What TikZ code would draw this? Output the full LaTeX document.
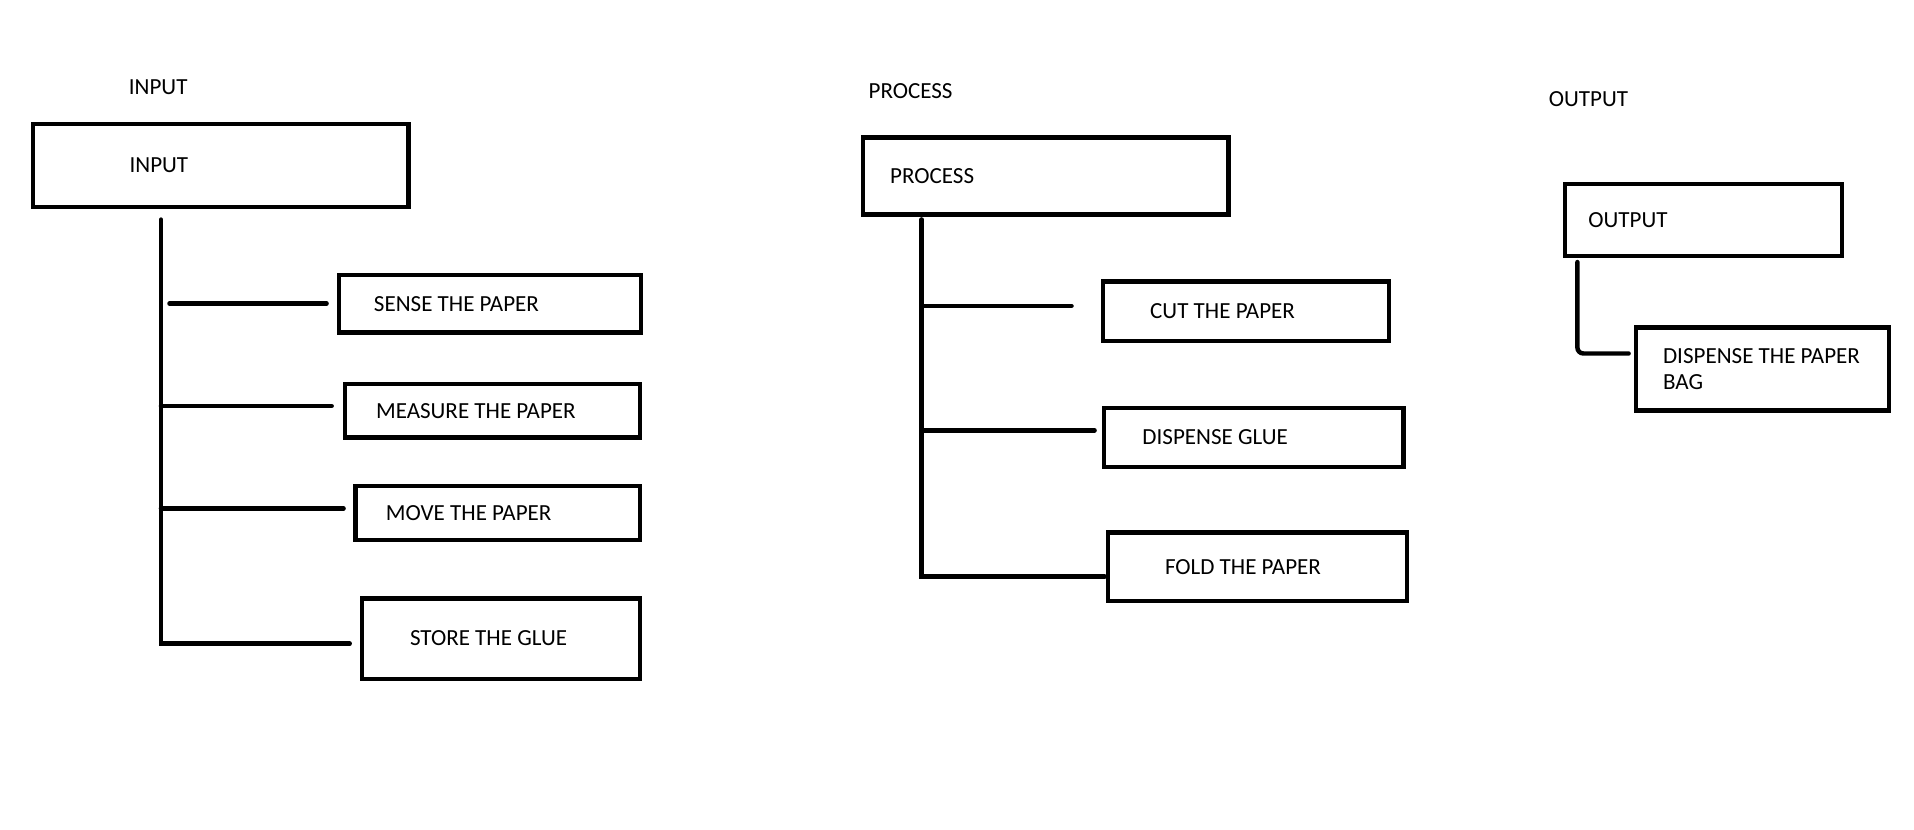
\documentclass[tikz,border=0pt]{standalone}
\usepackage{fontspec}
\setmainfont{Carlito}
\begin{document}
\begin{tikzpicture}[x=1mm, y=-1mm,
    box/.style={draw, line width=0.45mm, inner sep=0pt, anchor=north west},
    txt/.style={font=\fontsize{6.6pt}{7.7pt}\selectfont, inner sep=0pt},
    link/.style={line width=0.45mm, line cap=round}]
        \useasboundingbox (0,0) rectangle (192.65,83.45);

        % column titles
        \node[txt, anchor=west] (inputTitle)   at (12.9,8.8)   {INPUT};
        \node[txt, anchor=west] (processTitle) at (87.36,9.2)  {PROCESS};
        \node[txt, anchor=west] (outputTitle)  at (155.83,9.94) {OUTPUT};

        % input
        \node[box, minimum width=37.8mm, minimum height=8.34mm, label={[txt, anchor=west, xshift=9.9mm]west:INPUT}] (input) at (3.07,12.27) {};
        \node[box, minimum width=30.4mm, minimum height=5.77mm, label={[txt, anchor=west, xshift=3.7mm]west:SENSE THE PAPER}] (sense) at (33.87,27.48) {};
        \node[box, minimum width=29.7mm, minimum height=5.39mm, label={[txt, anchor=west, xshift=3.3mm]west:MEASURE THE PAPER}] (measure) at (34.48,38.41) {};
        \node[box, minimum width=28.6mm, minimum height=5.4mm, label={[txt, anchor=west, xshift=3.2mm]west:MOVE THE PAPER}] (move) at (35.58,48.71) {};
        \node[box, minimum width=28.0mm, minimum height=8.1mm, label={[txt, anchor=west, xshift=5.0mm]west:STORE THE GLUE}] (store) at (36.2,60.0) {};

        \coordinate (inTop) at (16.2,22.1);
        \coordinate (in1) at (16.2,30.55);
        \coordinate (in2) at (16.2,40.86);
        \coordinate (in3) at (16.2,51.17);
        \coordinate (in4) at (16.2,64.79);

        \draw[link, shorten >=1mm] (inTop) -- (in4) -- (in4 -| store.west);
        \draw[link, shorten <=0.86mm, shorten >=1mm] (in1) -- (in1 -| sense.west);
        \draw[link, shorten >=1.1mm] (in2) -- (in2 -| measure.west);
        \draw[link, shorten >=1mm] (in3) -- (in3 -| move.west);

        % process
        \node[box, minimum width=36.8mm, minimum height=7.73mm, label={[txt, anchor=west, xshift=2.9mm]west:PROCESS}] (process) at (86.63,13.62) {};
        \node[box, minimum width=28.8mm, minimum height=6.0mm, label={[txt, anchor=west, xshift=4.9mm]west:CUT THE PAPER}] (cut) at (110.8,28.1) {};
        \node[box, minimum width=30.1mm, minimum height=5.9mm, label={[txt, anchor=west, xshift=4.0mm]west:DISPENSE GLUE}] (glue) at (110.92,40.86) {};
        \node[box, minimum width=30.1mm, minimum height=6.9mm, label={[txt, anchor=west, xshift=5.9mm]west:FOLD THE PAPER}] (fold) at (111.29,53.37) {};

        \coordinate (prTop) at (92.76,22.09);
        \coordinate (pr1) at (92.76,30.8);
        \coordinate (pr2) at (92.76,43.31);
        \coordinate (pr3) at (92.76,58.04);

        \draw[link, shorten >=0.1mm] (prTop) -- (pr3) -- (pr3 -| fold.west);
        \draw[link, shorten >=2.95mm] (pr1) -- (pr1 -| cut.west);
        \draw[link, shorten >=0.75mm] (pr2) -- (pr2 -| glue.west);

        % output
        \node[box, minimum width=27.9mm, minimum height=7.24mm, label={[txt, anchor=west, xshift=2.5mm]west:OUTPUT}] (output) at (157.3,18.28) {};
        \node[box, minimum width=25.5mm, minimum height=8.34mm, label={[txt, anchor=west, xshift=2.9mm, align=left]west:DISPENSE THE PAPER\\BAG}] (bag) at (164.42,32.76) {};

        \coordinate (outTop) at (158.77,26.38);
        \coordinate (out1) at (158.77,35.58);

        \draw[link, rounded corners=0.6mm, shorten >=0.5mm] (outTop) -- (out1) -- (out1 -| bag.west);
    \end{tikzpicture}
\end{document}
